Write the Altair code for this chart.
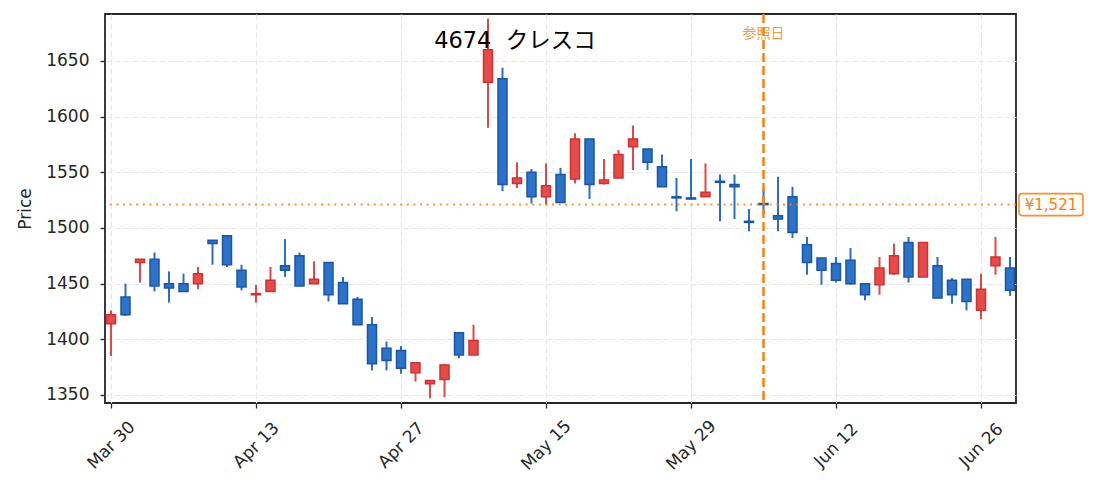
import json
import altair as alt
import pandas as pd

# ---------------- data ----------------
DATES = [
    "Mar 30", "Mar 31", "Apr 1", "Apr 2", "Apr 3", "Apr 6", "Apr 7", "Apr 8", "Apr 9", "Apr 10",
    "Apr 13", "Apr 14", "Apr 15", "Apr 16", "Apr 17", "Apr 20", "Apr 21", "Apr 22", "Apr 23", "Apr 24",
    "Apr 27", "Apr 28", "Apr 30", "May 1", "May 7", "May 8", "May 11", "May 12", "May 13", "May 14",
    "May 15", "May 18", "May 19", "May 20", "May 21", "May 22", "May 25", "May 26", "May 27", "May 28",
    "May 29", "Jun 1", "Jun 2", "Jun 3", "Jun 4", "Jun 5", "Jun 8", "Jun 9", "Jun 10", "Jun 11",
    "Jun 12", "Jun 15", "Jun 16", "Jun 17", "Jun 18", "Jun 19", "Jun 22", "Jun 23", "Jun 24", "Jun 25",
    "Jun 26", "Jun 29", "Jun 30",
]
OPEN = [
    1414, 1438, 1469, 1472, 1450, 1450, 1450, 1489, 1493, 1462,
    1440, 1443, 1466, 1475, 1450, 1469, 1451, 1436, 1413, 1392,
    1390, 1370, 1360, 1364, 1406, 1386, 1631, 1634, 1540, 1550,
    1528, 1548, 1544, 1580, 1540, 1545, 1573, 1571, 1555, 1528,
    1527, 1528, 1542, 1539, 1506, 1522, 1511, 1528, 1485, 1473,
    1468, 1471, 1450, 1449, 1459, 1487, 1456, 1466, 1453, 1454,
    1426, 1466, 1464,
]
HIGH = [
    1426, 1450, 1472, 1478, 1461, 1459, 1465, 1489, 1493, 1467,
    1449, 1465, 1490, 1478, 1470, 1469, 1456, 1438, 1420, 1398,
    1394, 1379, 1363, 1378, 1406, 1413, 1688, 1644, 1559, 1553,
    1558, 1554, 1585, 1580, 1562, 1570, 1592, 1571, 1566, 1545,
    1562, 1558, 1548, 1548, 1517, 1536, 1546, 1537, 1492, 1473,
    1474, 1482, 1450, 1474, 1486, 1492, 1487, 1474, 1455, 1454,
    1459, 1492, 1474,
]
LOW = [
    1385, 1421, 1451, 1443, 1433, 1443, 1445, 1467, 1465, 1444,
    1433, 1443, 1456, 1448, 1450, 1434, 1432, 1413, 1372, 1372,
    1369, 1362, 1347, 1348, 1383, 1386, 1590, 1533, 1536, 1522,
    1521, 1523, 1540, 1526, 1539, 1545, 1552, 1552, 1537, 1515,
    1526, 1528, 1506, 1508, 1497, 1512, 1497, 1491, 1458, 1449,
    1451, 1449, 1435, 1440, 1458, 1451, 1456, 1437, 1432, 1426,
    1418, 1458, 1439,
]
CLOSE = [
    1422, 1422, 1472, 1448, 1446, 1443, 1459, 1486, 1467, 1447,
    1441, 1453, 1462, 1448, 1454, 1440, 1432, 1413, 1378, 1381,
    1374, 1379, 1363, 1377, 1386, 1399, 1660, 1539, 1545, 1528,
    1538, 1523, 1580, 1539, 1543, 1566, 1580, 1559, 1537, 1527,
    1526, 1532, 1541, 1537, 1505, 1521, 1508, 1496, 1469, 1462,
    1453, 1450, 1440, 1464, 1475, 1456, 1487, 1437, 1440, 1434,
    1445, 1474, 1444,
]
X_TICKS = [0, 10, 20, 30, 40, 50, 60]
Y_TICKS = [1350, 1400, 1450, 1500, 1550, 1600, 1650]
REF_IDX = 45
REF_PRICE = 1521
TITLE = "4674\u00a0\u00a0クレスコ"
REF_LABEL = "参照日"
PRICE_LABEL = "¥1,521"

# ---------------- styles ----------------
UP_FILL, UP_EDGE, UP_WICK = "#e84a4a", "#cc3333", "#e24747"
DN_FILL, DN_EDGE, DN_WICK = "#2b72c8", "#1b55a6", "#2a6fc6"
ORANGE = "#ff7f0e"
W, H = 911, 389

df = pd.DataFrame({"i": list(range(len(DATES))), "date": DATES,
                   "open": OPEN, "high": HIGH, "low": LOW, "close": CLOSE})
df["dir"] = ["up" if c >= o else "down" for o, c in zip(OPEN, CLOSE)]

xscale = alt.Scale(domain=[-0.414, 62.414], nice=False, zero=False, padding=0)
yscale = alt.Scale(domain=[1342.8, 1692.2], nice=False, zero=False, padding=0)

xaxis = alt.Axis(values=X_TICKS, labelExpr=json.dumps(DATES) + "[round(datum.value)]",
                 labelAngle=-45, labelAlign="center", labelBaseline="middle",
                 labelPadding=37, title=None, grid=True)
yaxis = alt.Axis(values=Y_TICKS, format="d", title="Price", grid=True, labelPadding=11,
                 titleX=-80, titleY=H / 2, titleAngle=-90, titleAlign="center",
                 titleBaseline="middle")


def X(field):
    return alt.X(field, scale=xscale, axis=xaxis)


def Y(field):
    return alt.Y(field, scale=yscale, axis=yaxis)


dom = ["up", "down"]
base = alt.Chart(df)

wicks = base.mark_rule(strokeWidth=2).encode(
    x=X("i:Q"), y=Y("low:Q"), y2="high:Q",
    color=alt.Color("dir:N", scale=alt.Scale(domain=dom, range=[UP_WICK, DN_WICK]), legend=None),
)
bodies = base.mark_bar(size=9, strokeWidth=1.5).encode(
    x=X("i:Q"), y=Y("open:Q"), y2="close:Q",
    fill=alt.Fill("dir:N", scale=alt.Scale(domain=dom, range=[UP_FILL, DN_FILL]), legend=None),
    stroke=alt.Stroke("dir:N", scale=alt.Scale(domain=dom, range=[UP_EDGE, DN_EDGE]), legend=None),
)

ref_df = pd.DataFrame({"i": [REF_IDX], "p": [REF_PRICE], "lbl": [PRICE_LABEL],
                       "ref": [REF_LABEL], "title": [TITLE]})
ref = alt.Chart(ref_df)

hline = ref.mark_rule(color=ORANGE, strokeDash=[2, 4.6], strokeWidth=2, opacity=0.85).encode(y=Y("p:Q"))
vline = ref.mark_rule(color=ORANGE, strokeDash=[9, 4], strokeWidth=2.5).encode(x=X("i:Q"))
ref_text = ref.mark_text(font="Noto Sans CJK JP", fontSize=14, color=ORANGE, opacity=0.8,
                         baseline="middle", align="center").encode(
    x=X("i:Q"), y=alt.value(20), text="ref:N")
title_text = ref.mark_text(font="DejaVu Sans, Noto Sans CJK JP", fontSize=22.5, color="#000000",
                           baseline="alphabetic", align="center").encode(
    x=alt.value(W * 0.45), y=alt.value(34), text="title:N")

BOX = ("M-0.906,-0.344 L0.906,-0.344 A0.094,0.094 0 0 1 1,-0.25 L1,0.25 "
       "A0.094,0.094 0 0 1 0.906,0.344 L-0.906,0.344 A0.094,0.094 0 0 1 -1,0.25 "
       "L-1,-0.25 A0.094,0.094 0 0 1 -0.906,-0.344 Z")
price_box = ref.mark_point(shape=BOX, size=64 * 64, filled=True, fill="white", stroke=ORANGE,
                           strokeWidth=1.6, opacity=1, fillOpacity=1, strokeOpacity=0.9).encode(
    x=alt.value(W + 35), y=Y("p:Q"))
price_text = ref.mark_text(font="DejaVu Sans", fontSize=15, color=ORANGE, baseline="middle",
                           align="center").encode(
    x=alt.value(W + 35), y=Y("p:Q"), text="lbl:N")

chart = alt.layer(wicks, bodies, hline, vline, ref_text, title_text, price_box, price_text).properties(
    width=W, height=H,
    autosize=alt.AutoSizeParams(type="none"),
    padding={"left": 97, "top": 6, "right": 70, "bottom": 80},
    background="white",
).configure_view(
    stroke="#262626", strokeWidth=1.8
).configure_axis(
    gridColor="#e8e8e8", gridDash=[6, 3], gridWidth=1.2,
    tickColor="#262626", tickSize=5, tickWidth=1.3, domain=False,
    labelFont="DejaVu Sans", labelFontSize=17, labelColor="#262626",
    titleFont="DejaVu Sans", titleFontSize=17, titleFontWeight="normal", titleColor="#262626",
)

chart.save("out.html", embed_options={"renderer": "svg", "actions": False})
